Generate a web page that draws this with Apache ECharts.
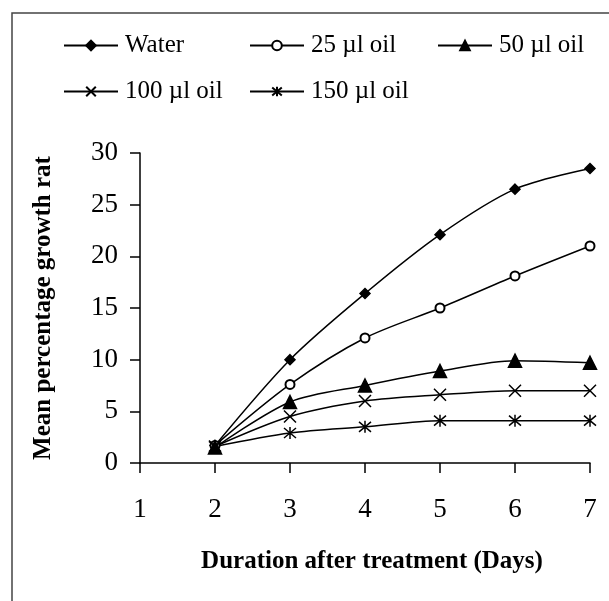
<!DOCTYPE html>
<html>
<head>
<meta charset="utf-8">
<script src="https://cdn.jsdelivr.net/npm/echarts@6/dist/echarts.min.js"></script>
<style>
  html, body { margin: 0; padding: 0; background: #fff; }
  #main { width: 609px; height: 601px; }
</style>
</head>
<body>
<div id="main"></div>
<script>
// days after treatment (x axis)
var days = ['1', '2', '3', '4', '5', '6', '7'];
// mean percentage growth rate, no value on day 1
var water = [null, 1.7, 10.0, 16.4, 22.1, 26.5, 28.5];
var oil25 = [null, 1.7, 7.6, 12.1, 15.0, 18.1, 21.0];
var oil50 = [null, 1.5, 5.9, 7.5, 8.9, 9.9, 9.7];
var oil100 = [null, 1.6, 4.5, 6.0, 6.6, 7.0, 7.0];
var oil150 = [null, 1.6, 2.9, 3.5, 4.1, 4.1, 4.1];
var yTicks = [0, 30, 5]; // min, max, interval

var font = 'Liberation Serif';
var crossPath = 'path://M0,0L10,10M10,0L0,10';
var starPath = 'path://M0,0L10,10M10,0L0,10M5,-1L5,11';

function makeLine(name, data, symbol, size) {
  return {
    name: name,
    type: 'line',
    data: data,
    smooth: 0.3,
    symbol: symbol,
    symbolSize: size,
    color: '#000',
    lineStyle: { color: '#000', width: 1.5 },
    itemStyle: { color: '#000', borderColor: '#000', borderWidth: 1.5 }
  };
}

function makeLegend(name, left, top) {
  return {
    data: [name],
    left: left,
    top: top,
    padding: 0,
    itemWidth: 54,
    itemHeight: 12,
    textStyle: { fontFamily: font, fontSize: 25, color: '#000', padding: [0, 0, 0, 2] }
  };
}

var myChart = echarts.init(document.getElementById('main'));
myChart.setOption({
  animation: false,
  backgroundColor: '#fff',
  graphic: [{
    type: 'rect',
    shape: { x: 12, y: 13, width: 640, height: 640 },
    style: { fill: 'none', stroke: '#444', lineWidth: 1.5 }
  }],
  legend: [
    makeLegend('Water', 63, 33),
    makeLegend('25 µl oil', 249, 33),
    makeLegend('50 µl oil', 437, 33),
    makeLegend('100 µl oil', 63, 79),
    makeLegend('150 µl oil', 249, 79)
  ],
  grid: { left: 140, right: 19, top: 153, bottom: 138 },
  xAxis: {
    type: 'category',
    data: days,
    boundaryGap: false,
    name: 'Duration after treatment (Days)',
    nameLocation: 'middle',
    nameGap: 86,
    nameTextStyle: { fontFamily: font, fontSize: 25, fontWeight: 'bold', color: '#000', padding: [0, 0, 0, 14] },
    axisLine: { lineStyle: { color: '#000', width: 1.5 } },
    axisTick: { alignWithLabel: true, length: 10, lineStyle: { color: '#000', width: 1.5 } },
    axisLabel: { fontFamily: font, fontSize: 27, color: '#000', margin: 33 },
    splitLine: { show: false }
  },
  yAxis: {
    type: 'value',
    min: yTicks[0],
    max: yTicks[1],
    interval: yTicks[2],
    name: 'Mean percentage growth rat',
    nameLocation: 'middle',
    nameGap: 84,
    nameTextStyle: { fontFamily: font, fontSize: 25, fontWeight: 'bold', color: '#000' },
    axisLine: { show: true, lineStyle: { color: '#000', width: 1.5 } },
    axisTick: { show: true, length: 10, lineStyle: { color: '#000', width: 1.5 } },
    axisLabel: { fontFamily: font, fontSize: 27, color: '#000', margin: 22 },
    splitLine: { show: false }
  },
  series: [
    makeLine('Water', water, 'diamond', 10),
    makeLine('25 µl oil', oil25, 'emptyCircle', 9),
    makeLine('50 µl oil', oil50, 'triangle', 13),
    makeLine('100 µl oil', oil100, crossPath, 12),
    makeLine('150 µl oil', oil150, starPath, 12)
  ]
});
</script>
</body>
</html>
